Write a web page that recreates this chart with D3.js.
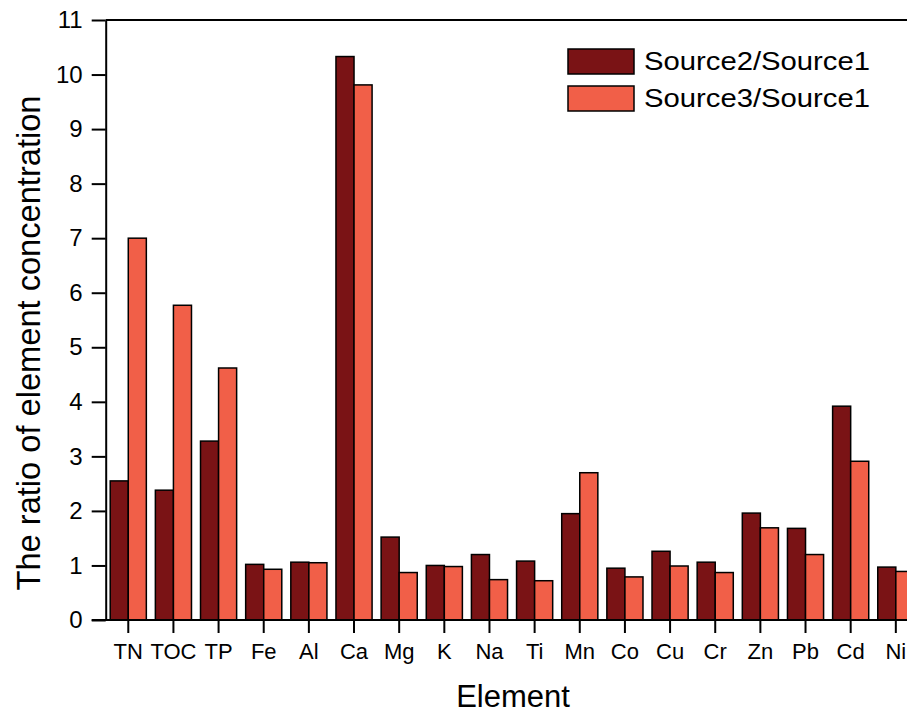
<!DOCTYPE html>
<html>
<head>
<meta charset="utf-8">
<script src="https://cdn.jsdelivr.net/npm/d3@7"></script>
<style>
  body { margin: 0; background: #fff; }
  svg { display: block; font-family: Arial, "Liberation Sans", sans-serif; }
</style>
</head>
<body>
<svg id="chart" width="907" height="716"></svg>
<script>
// data
const elements = ["TN", "TOC", "TP", "Fe", "Al", "Ca", "Mg", "K", "Na", "Ti", "Mn", "Co", "Cu", "Cr", "Zn", "Pb", "Cd", "Ni"];
const seriesNames = ["Source2/Source1", "Source3/Source1"];
const source2 = [2.55, 2.38, 3.28, 1.02, 1.06, 10.33, 1.52, 1.00, 1.20, 1.08, 1.95, 0.95, 1.26, 1.06, 1.96, 1.68, 3.92, 0.97];
const source3 = [7.00, 5.77, 4.62, 0.93, 1.05, 9.81, 0.87, 0.98, 0.74, 0.72, 2.70, 0.79, 0.99, 0.87, 1.69, 1.20, 2.91, 0.89];
const yTicks = [0, 1, 2, 3, 4, 5, 6, 7, 8, 9, 10, 11];
const colors = ["#7a1315", "#f15f48"];

let svg = d3.select("#chart");

let left = 105.7;
let step = 45.15;
let x = d3
  .scaleBand()
  .domain(elements)
  .range([left, left + step * elements.length])
  .paddingInner(0.2)
  .paddingOuter(0.1);

let xs = d3
  .scaleBand()
  .domain(seriesNames)
  .range([0, x.bandwidth()]);

let y = d3
  .scaleLinear()
  .domain([0, 11])
  .range([620, 20]);

let rows = elements.map((e, i) => ({ name: e, vals: [source2[i], source3[i]] }));

// bars
let groups = svg
  .append("g")
  .selectAll("g")
  .data(rows)
  .join("g")
  .attr("transform", d => `translate(${x(d.name)},0)`);

groups
  .selectAll("rect")
  .data(d => d.vals.map((v, k) => ({ v: v, s: seriesNames[k], k: k })))
  .join("rect")
  .attr("x", d => xs(d.s))
  .attr("y", d => y(d.v))
  .attr("width", xs.bandwidth())
  .attr("height", d => y(0) - y(d.v))
  .attr("fill", d => colors[d.k])
  .attr("stroke", "#000")
  .attr("stroke-width", 1.5);

// y axis
let yAxis = svg
  .append("g")
  .attr("transform", `translate(${left},0)`)
  .call(d3.axisLeft(y).tickValues(yTicks).tickSize(14).tickSizeOuter(0).tickPadding(9));
yAxis.attr("font-size", null).attr("font-family", null);
yAxis.select(".domain").attr("stroke-width", 2);
yAxis.selectAll(".tick line").attr("stroke-width", 2);
yAxis.selectAll(".tick text").style("font-size", "24px").attr("fill", "#000");

// x axis
let xAxis = svg
  .append("g")
  .attr("transform", `translate(0,${y(0)})`)
  .call(d3.axisBottom(x).tickSize(13).tickSizeOuter(0).tickPadding(10));
xAxis.attr("font-size", null).attr("font-family", null);
xAxis.select(".domain").remove();
xAxis.selectAll(".tick line").attr("stroke-width", 2);
xAxis.selectAll(".tick text").style("font-size", "22px").attr("fill", "#000");

// bottom and top frame lines
svg.append("line")
  .attr("x1", left - 14).attr("x2", 907)
  .attr("y1", y(0)).attr("y2", y(0))
  .attr("stroke", "#000").attr("stroke-width", 2);
svg.append("line")
  .attr("x1", left).attr("x2", 907)
  .attr("y1", y(11)).attr("y2", y(11))
  .attr("stroke", "#000").attr("stroke-width", 2);

// axis titles
svg.append("text")
  .attr("x", 513)
  .attr("y", 707)
  .attr("text-anchor", "middle")
  .attr("font-size", 31)
  .text("Element");

svg.append("text")
  .attr("transform", "translate(40,343) rotate(-90)")
  .attr("text-anchor", "middle")
  .attr("font-size", 33)
  .attr("textLength", 495)
  .attr("lengthAdjust", "spacingAndGlyphs")
  .text("The ratio of element concentration");

// legend
let legend = svg
  .append("g")
  .selectAll("g")
  .data(seriesNames)
  .join("g")
  .attr("transform", (d, i) => `translate(568,${49 + i * 37})`);

legend.append("rect")
  .attr("width", 66)
  .attr("height", 25)
  .attr("fill", (d, i) => colors[i])
  .attr("stroke", "#000")
  .attr("stroke-width", 1.5);

legend.append("text")
  .attr("x", 76)
  .attr("y", 21)
  .attr("font-size", 25)
  .attr("textLength", 226)
  .attr("lengthAdjust", "spacingAndGlyphs")
  .text(d => d);
</script>
</body>
</html>
